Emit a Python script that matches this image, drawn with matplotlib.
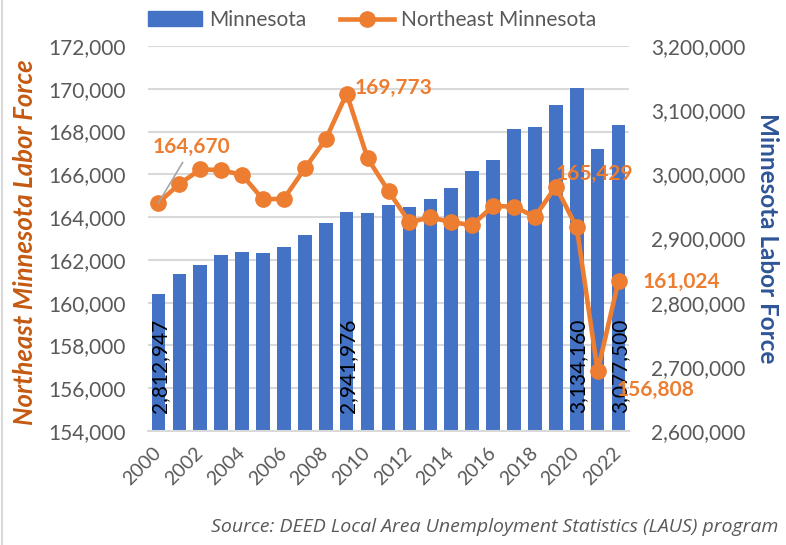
import matplotlib.pyplot as plt
from matplotlib.patches import Patch
from matplotlib.lines import Line2D
from matplotlib.ticker import FuncFormatter

years = list(range(2000, 2023))
mn_labor = [2812947, 2844000, 2858700, 2874000, 2879000, 2878000, 2887000,
            2905000, 2924600, 2941976, 2940000, 2952000, 2949000, 2961000,
            2979000, 3005000, 3023000, 3070000, 3074000, 3108000, 3134160,
            3039000, 3077500]
ne_labor = [164670, 165550, 166230, 166200, 165970, 164830, 164860,
            166280, 167640, 169773, 166750, 165220, 163760, 163990,
            163760, 163630, 164520, 164490, 164020, 165429, 163520,
            156808, 161024]

bar_labelled = [2000, 2009, 2020, 2022]
line_labelled = [2000, 2009, 2019, 2021, 2022]

BLUE = "#4472C4"
ORANGE = "#ED7D31"
GRID = "#D9D9D9"
TICK = "#595959"

plt.rcParams['font.family'] = ['Lato', 'DejaVu Sans']

fig = plt.figure(figsize=(7.86, 5.45), dpi=100)
W, H = 786, 545
rect = [148 / W, 1 - 431 / H, (629 - 148) / W, (431 - 46) / H]
ax_bar = fig.add_axes(rect)
ax = ax_bar.twinx()
ax.set_zorder(ax_bar.get_zorder() + 1)
ax.patch.set_visible(False)

x = list(range(len(years)))
comma = FuncFormatter(lambda v, p: f"{int(v):,}")

# bars (Minnesota, right scale)
ax_bar.bar(x, mn_labor, width=0.65, color=BLUE, zorder=2)
ax_bar.set_ylim(2600000, 3200000)
ax_bar.set_yticks(range(2600000, 3200001, 100000))
ax_bar.yaxis.set_major_formatter(comma)
ax_bar.yaxis.tick_right()
ax_bar.tick_params(axis='y', length=0, pad=16, labelsize=15, labelcolor=TICK)

# gridlines follow the left (NE Minnesota) scale, drawn behind the bars
for t in range(154000, 172001, 2000):
    gy = 2600000 + (t - 154000) * 600000 / 18000
    ax_bar.axhline(gy, color=GRID, lw=1.5, zorder=0)

for yr in bar_labelled:
    i = years.index(yr)
    ax_bar.annotate(f"{mn_labor[i]:,}", (i, 2600000), xytext=(1, 13),
                    textcoords='offset points', rotation=90, ha='center',
                    va='bottom', fontsize=15, color='black', zorder=3)

# line (Northeast Minnesota, left scale)
ax.plot(x, ne_labor, color=ORANGE, lw=3.3, marker='o', markersize=11, zorder=3)
ax.set_ylim(154000, 172000)
ax.set_yticks(range(154000, 172001, 2000))
ax.yaxis.set_major_formatter(comma)
ax.yaxis.tick_left()
ax.tick_params(axis='y', length=0, pad=16, labelsize=15, labelcolor=TICK)

offsets = {2000: (24, 40, 'center'), 2009: (6, 4, 'left'), 2019: (0, 9, 'left'),
           2021: (14, -14, 'left'), 2022: (17, -1, 'left')}
for yr in line_labelled:
    i = years.index(yr)
    dx, dy, ha = offsets[yr]
    kw = {}
    if yr == 2000:
        kw['arrowprops'] = dict(arrowstyle='-', color='#A6A6A6', lw=1.2,
                                shrinkA=2, shrinkB=0)
    ax.annotate(f"{ne_labor[i]:,}", (i, ne_labor[i]), xytext=(dx, dy),
                textcoords='offset points', ha=ha, va='center', fontsize=15,
                fontweight='bold', color=ORANGE, zorder=4, **kw)

ax_bar.set_xlim(-0.5, len(years) - 0.5)
ax_bar.set_xticks(x[::2])
ax_bar.set_xticklabels([str(y) for y in years[::2]], rotation=45, ha='right',
                       va='center', rotation_mode='anchor')
ax_bar.tick_params(axis='x', length=0, pad=14, labelsize=14, labelcolor=TICK)
ax.tick_params(axis='x', length=0, labelbottom=False)

for a in (ax, ax_bar):
    for s in a.spines.values():
        s.set_visible(False)
ax_bar.spines['bottom'].set_visible(True)
ax_bar.spines['bottom'].set_color(GRID)
ax_bar.spines['bottom'].set_linewidth(1.5)

fig.text(25 / W, 1 - 242 / H, "Northeast Minnesota Labor Force", rotation=90,
         ha='center', va='center', fontsize=18.5, fontweight='bold',
         fontstyle='italic', color="#C55A11")
fig.text(768 / W, 1 - 238 / H, "Minnesota Labor Force", rotation=270,
         ha='center', va='center', fontsize=17.5, fontweight='bold',
         color="#2F5597")

handles = [Patch(color=BLUE, label="Minnesota"),
           Line2D([], [], color=ORANGE, lw=3.3, marker='o', markersize=11,
                  label="Northeast Minnesota")]
fig.legend(handles=handles, loc='center', bbox_to_anchor=(372 / W, 1 - 20 / H),
           ncol=2, frameon=False, fontsize=15, labelcolor=TICK,
           handlelength=2.6, handleheight=0.7, columnspacing=1.6,
           handletextpad=0.35)

fig.text(778 / W, 1 - 527 / H,
         "Source: DEED Local Area Unemployment Statistics (LAUS) program",
         ha='right', va='center', fontsize=14, fontstyle='italic',
         color=TICK, family=['Open Sans', 'DejaVu Sans'])

fig.add_artist(Line2D([2 / W, 2 / W], [0, 1], color=GRID, lw=1.5))

fig.savefig("out.png", dpi=100)
